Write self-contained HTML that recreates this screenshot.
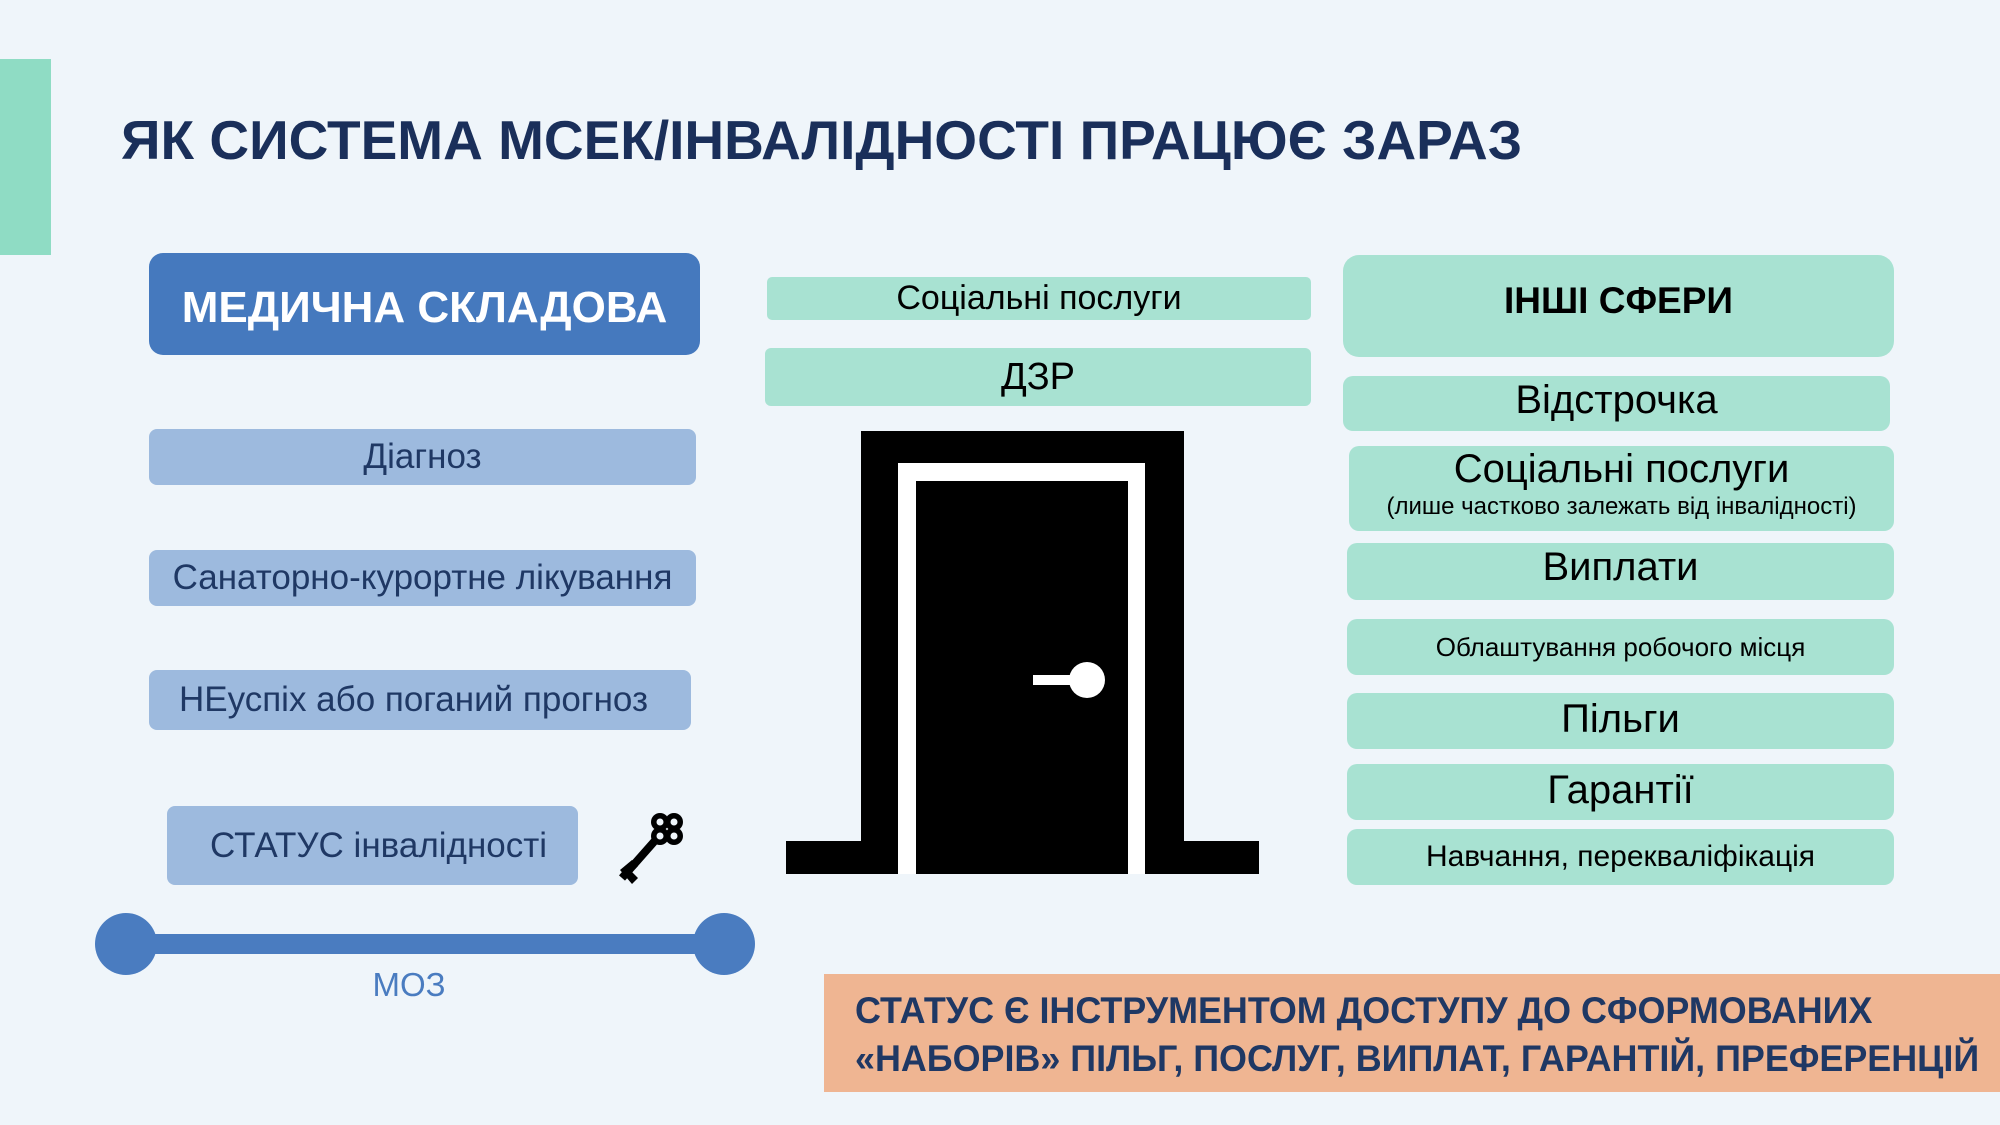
<!DOCTYPE html>
<html><head><meta charset="utf-8"><style>
*{margin:0;padding:0;box-sizing:border-box}
body{width:2000px;height:1125px;background:#eff5fa;position:relative;overflow:hidden;font-family:"Liberation Sans",sans-serif}
.a{position:absolute}
.box{position:absolute;display:flex;align-items:center;justify-content:center;white-space:nowrap}
.n{display:inline-block}
.lb{background:#9dbade;border-radius:8px;color:#1f3864;font-size:35px}
.gr{background:#a8e2d2;border-radius:10px;color:#000;font-size:38px}
</style></head><body>
<div class="a" style="left:0;top:59px;width:51px;height:196px;background:#8fdcc4"></div>
<div class="a" style="left:121px;top:108px;font-size:55px;font-weight:bold;color:#1a2f5a;white-space:nowrap">ЯК СИСТЕМА МСЕК/ІНВАЛІДНОСТІ ПРАЦЮЄ ЗАРАЗ</div>

<div class="box" style="left:149px;top:253px;width:551px;height:102px;background:#4579be;border-radius:14px;color:#fff;font-weight:bold;font-size:44px;padding-top:8px"><span class="n">МЕДИЧНА СКЛАДОВА</span></div>
<div class="box lb" style="left:149px;top:429px;width:547px;height:56px"><span class="n">Діагноз</span></div>
<div class="box lb" style="left:149px;top:550px;width:547px;height:56px"><span class="n">Санаторно-курортне лікування</span></div>
<div class="box lb" style="left:149px;top:670px;width:542px;height:60px;justify-content:flex-start;padding-left:30px"><span class="n">НЕуспіх або поганий прогноз</span></div>
<div class="box lb" style="left:167px;top:806px;width:411px;height:79px;justify-content:flex-start;padding-left:43px"><span class="n">СТАТУС інвалідності</span></div>

<svg class="a" style="left:610px;top:800px" width="85" height="90" viewBox="0 0 85 90">
<g fill="#000">
<line x1="12" y1="78" x2="50" y2="35" stroke="#000" stroke-width="8"/>
<path d="M10 70 L22 84 L28 78 L22 72 L28 66 L22 60 Z"/>
<circle cx="50" cy="22" r="9"/><circle cx="64" cy="22" r="9"/><circle cx="50" cy="36" r="9"/><circle cx="64" cy="36" r="9"/>
<circle cx="50" cy="22" r="3.5" fill="#eff5fa"/><circle cx="64" cy="22" r="3.5" fill="#eff5fa"/><circle cx="50" cy="36" r="3.5" fill="#eff5fa"/><circle cx="64" cy="36" r="3.5" fill="#eff5fa"/>
</g></svg>

<div class="a" style="left:126px;top:934px;width:598px;height:20px;background:#4a7cc0"></div>
<div class="a" style="left:95px;top:913px;width:62px;height:62px;border-radius:50%;background:#4a7cc0"></div>
<div class="a" style="left:693px;top:913px;width:62px;height:62px;border-radius:50%;background:#4a7cc0"></div>
<div class="box" style="left:309px;top:965px;width:200px;height:40px;color:#4a7cc0;font-size:33px">МОЗ</div>

<div class="box gr" style="left:767px;top:277px;width:544px;height:43px;border-radius:5px;font-size:34px"><span class="n">Соціальні послуги</span></div>
<div class="box gr" style="left:765px;top:348px;width:546px;height:58px;border-radius:6px;font-size:38px"><span class="n">ДЗР</span></div>

<div class="a" style="left:861px;top:431px;width:323px;height:443px;background:#000"></div>
<div class="a" style="left:898px;top:463px;width:247px;height:411px;background:#fff"></div>
<div class="a" style="left:916px;top:481px;width:212px;height:393px;background:#000"></div>
<div class="a" style="left:786px;top:841px;width:80px;height:33px;background:#000"></div>
<div class="a" style="left:1180px;top:841px;width:79px;height:33px;background:#000"></div>
<div class="a" style="left:1033px;top:675px;width:45px;height:10px;background:#fff"></div>
<div class="a" style="left:1069px;top:662px;width:36px;height:36px;border-radius:50%;background:#fff"></div>

<div class="box gr" style="left:1343px;top:255px;width:551px;height:102px;border-radius:16px;font-weight:bold;font-size:37px;padding-bottom:10px"><span class="n">ІНШІ СФЕРИ</span></div>
<div class="box gr" style="left:1343px;top:376px;width:547px;height:55px;padding-bottom:6px;font-size:40px"><span class="n">Відстрочка</span></div>
<div class="box gr" style="left:1349px;top:446px;width:545px;height:85px;flex-direction:column;justify-content:flex-start">
<span class="n" style="margin-top:0px;line-height:46px;font-size:40px">Соціальні послуги</span><span class="n" style="font-size:24px;line-height:30px">(лише частково залежать від інвалідності)</span></div>
<div class="box gr" style="left:1347px;top:543px;width:547px;height:57px;padding-bottom:8px;font-size:40px"><span class="n">Виплати</span></div>
<div class="box gr" style="left:1347px;top:619px;width:547px;height:56px;font-size:26px"><span class="n">Облаштування робочого місця</span></div>
<div class="box gr" style="left:1347px;top:693px;width:547px;height:56px;font-size:40px;padding-bottom:4px"><span class="n">Пільги</span></div>
<div class="box gr" style="left:1347px;top:764px;width:547px;height:56px;padding-bottom:4px;font-size:40px"><span class="n">Гарантії</span></div>
<div class="box gr" style="left:1347px;top:829px;width:547px;height:56px;font-size:30px"><span class="n">Навчання, перекваліфікація</span></div>

<div class="a" style="left:824px;top:974px;width:1176px;height:118px;background:#efb592"></div>
<div class="a" style="left:855px;top:987px;color:#1f3864;font-weight:bold;font-size:37px;line-height:48px;white-space:nowrap;transform:scaleX(0.97);transform-origin:left">СТАТУС Є ІНСТРУМЕНТОМ ДОСТУПУ ДО СФОРМОВАНИХ<br>«НАБОРІВ» ПІЛЬГ, ПОСЛУГ, ВИПЛАТ, ГАРАНТІЙ, ПРЕФЕРЕНЦІЙ</div>
</body></html>
